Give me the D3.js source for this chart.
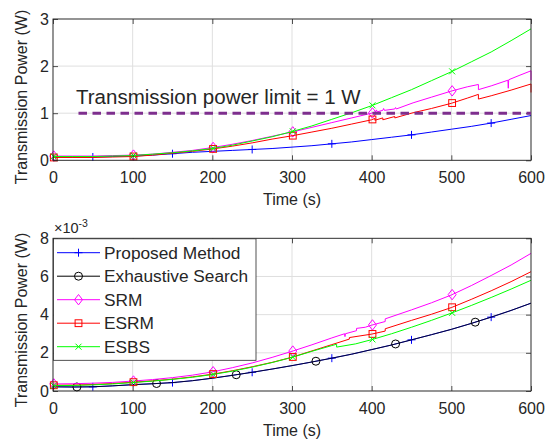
<!DOCTYPE html>
<html><head><meta charset="utf-8">
<script src="https://cdn.jsdelivr.net/npm/d3@7"></script>
<style>
body{margin:0;background:#fff}
svg{display:block}
text{font-family:"Liberation Sans",Arial,Helvetica,sans-serif;fill:#262626}
</style>
</head><body>
<svg id="c" width="554" height="443"></svg>
<script>
// ---------- data ----------
const xTicks = [0,100,200,300,400,500,600];
const topYTicks = [0,1,2,3];
const botYTicks = [0,2,4,6,8];
const seriesNames = ["Proposed Method","Exhaustive Search","SRM","ESRM","ESBS"];
const seriesColors = ["#0000ff","#000000","#ff00ff","#ff0000","#00ff00"];
const seriesMarkers = ["plus","circle","diamond","square","cross"];
const xLabel = "Time (s)";
const yLabel = "Transmission Power (W)";
const limitLabel = "Transmission power limit = 1 W";
const limitValue = 1;
const limitTimes = [32,600];
const markerTimesMain = [1,101,201,301,401,501];
const markerTimesProposed = [50,150,250,350,450,550];
const markerTimesExhaustive = [30,130,230,330,430,530];

// top panel (W)
const topProposed = [[0,.07],[25,.07],[50,.07],[75,.08],[100,.09],[125,.11],[150,.14],[175,.17],[200,.19],[225,.21],[250,.23],[275,.25],[300,.28],[325,.31],[350,.35],[375,.39],[400,.44],[425,.49],[450,.54],[475,.6],[500,.66],[525,.72],[550,.79],[575,.87],[600,.95]];
const topSRM = [[0,.09],[25,.09],[50,.09],[75,.1],[100,.11],[125,.13],[150,.17],[175,.21],[200,.27],[225,.34],[250,.42],[275,.51],[300,.6],[325,.7],[350,.8],[375,.9],[400,1.0],[405,1.03],[406,1.07],[407,1.03],[414,1.06],[415,1.1],[416,1.06],[429,1.09],[430,1.12],[431,1.09],[452,1.22],[475,1.34],[500,1.47],[520,1.56],[534,1.61],[534,1.5],[550,1.58],[571,1.7],[571.5,1.53],[572,1.71],[585,1.8],[600,1.9],[600,1.7]];
const topESRM = [[0,.06],[25,.06],[50,.06],[75,.07],[100,.08],[125,.11],[150,.15],[175,.19],[200,.24],[225,.3],[250,.37],[275,.45],[300,.52],[325,.6],[350,.68],[375,.77],[400,.86],[404,.89],[404,.85],[414,.9],[414,.86],[429,.93],[429,.9],[452,1.01],[475,1.1],[500,1.21],[520,1.32],[534,1.4],[534,1.3],[550,1.37],[575,1.49],[600,1.62],[600,1.44]];
const topESBS = [[0,.08],[25,.08],[50,.08],[75,.09],[100,.1],[125,.13],[150,.16],[175,.2],[200,.25],[225,.32],[250,.41],[275,.5],[300,.61],[325,.73],[350,.87],[375,1.01],[400,1.16],[425,1.33],[450,1.5],[475,1.69],[500,1.88],[525,2.09],[550,2.3],[575,2.54],[600,2.79]];

// bottom panel (x 10^-3 W)
const botProposed = [[0,.22],[25,.21],[50,.22],[75,.27],[100,.33],[125,.38],[150,.44],[175,.54],[200,.67],[225,.82],[250,.98],[275,1.15],[300,1.33],[325,1.52],[350,1.72],[375,1.93],[400,2.17],[425,2.41],[450,2.68],[475,2.95],[500,3.23],[525,3.54],[550,3.87],[575,4.22],[600,4.6]];
const botExhaustive = [[0,.22],[25,.21],[50,.22],[75,.27],[100,.33],[125,.38],[150,.44],[175,.54],[200,.67],[225,.82],[250,.98],[275,1.15],[300,1.33],[325,1.52],[350,1.72],[375,1.93],[400,2.17],[425,2.41],[450,2.68],[475,2.95],[500,3.23],[525,3.54],[550,3.87],[575,4.22],[600,4.6]];
const botSRM = [[0,.37],[25,.38],[50,.41],[75,.45],[100,.52],[125,.6],[150,.7],[175,.83],[200,1.0],[225,1.22],[250,1.47],[275,1.76],[300,2.08],[325,2.42],[350,2.78],[366,3.0],[366.5,2.85],[367,3.0],[381,3.16],[381,3.28],[392,3.34],[400,3.45],[417,3.64],[417,3.78],[450,4.25],[475,4.62],[500,5.03],[525,5.52],[550,6.05],[575,6.6],[600,7.21]];
const botESRM = [[0,.3],[25,.31],[50,.34],[75,.39],[100,.46],[125,.53],[150,.62],[175,.74],[200,.88],[225,1.06],[250,1.27],[275,1.5],[300,1.77],[325,2.1],[350,2.43],[372,2.72],[372,2.8],[400,2.98],[417,3.14],[417,3.26],[450,3.7],[475,4.02],[500,4.37],[525,4.8],[550,5.25],[575,5.73],[600,6.25]];
const botESBS = [[0,.28],[25,.29],[50,.32],[75,.37],[100,.44],[125,.52],[150,.61],[175,.72],[200,.86],[225,1.04],[250,1.25],[275,1.49],[300,1.76],[325,2.08],[350,2.38],[356,2.45],[356,2.3],[380,2.47],[400,2.69],[425,3.0],[450,3.34],[475,3.7],[500,4.08],[525,4.48],[550,4.9],[575,5.34],[600,5.8]];

// ---------- drawing ----------
const svg = d3.select("#c");
const AX = "#262626", GRID = "#dfdfdf";
const x = d3.scaleLinear().domain([0,600]).range([53,531]);

function interp(data, t){
  for(let i=0;i<data.length-1;i++){
    const a=data[i], b=data[i+1];
    if(t>=a[0] && t<=b[0] && b[0]>a[0]){
      return a[1]+(b[1]-a[1])*(t-a[0])/(b[0]-a[0]);
    }
  }
  return data[data.length-1][1];
}

function drawMarker(g, type, cx, cy, color){
  const s = g.append("g").attr("transform",`translate(${cx},${cy})`)
    .attr("fill","none").attr("stroke",color).attr("stroke-width",1);
  if(type==="plus") s.append("path").attr("d","M-4,0H4M0,-4V4");
  else if(type==="cross") s.append("path").attr("d","M-3,-3L3,3M-3,3L3,-3");
  else if(type==="circle") s.append("circle").attr("r",4);
  else if(type==="diamond") s.append("path").attr("d","M0,-5.2L4,0L0,5.2L-4,0Z");
  else if(type==="square") s.append("rect").attr("x",-3.4).attr("y",-3.4).attr("width",6.8).attr("height",6.8);
}

function panel(yDomain, yRange, yTicks, seriesList){
  const y = d3.scaleLinear().domain(yDomain).range(yRange);
  const [yb, yt] = yRange;
  const g = svg.append("g");
  // grid
  g.append("g").selectAll("line").data(xTicks).join("line")
    .attr("x1",d=>x(d)).attr("x2",d=>x(d)).attr("y1",yt).attr("y2",yb)
    .attr("stroke",GRID).attr("stroke-width",1);
  g.append("g").selectAll("line").data(yTicks).join("line")
    .attr("x1",x(0)).attr("x2",x(600)).attr("y1",d=>y(d)).attr("y2",d=>y(d))
    .attr("stroke",GRID).attr("stroke-width",1);
  // series
  const line = d3.line().x(d=>x(d[0])).y(d=>y(d[1]));
  const lg = g.append("g");
  seriesList.forEach(s=>{
    lg.append("path").datum(s.data).attr("d",line).attr("fill","none")
      .attr("stroke",s.color).attr("stroke-width",1).attr("stroke-opacity",s.opacity||1)
      .attr("stroke-linejoin","round");
    s.markers.forEach(t=>drawMarker(lg, s.marker, x(t), y(interp(s.data,t)), s.color));
  });
  // axes
  const xb = d3.axisBottom(x).tickValues(xTicks).tickSizeInner(-5).tickSizeOuter(0).tickPadding(11.5);
  const xa = g.append("g").attr("transform",`translate(0,${yb})`).call(xb);
  const xtop = g.append("g").attr("transform",`translate(0,${yt})`)
    .call(d3.axisTop(x).tickValues(xTicks).tickSizeInner(-5).tickSizeOuter(0).tickFormat(""));
  const ya = g.append("g").attr("transform",`translate(${x(0)},0)`)
    .call(d3.axisLeft(y).tickValues(yTicks).tickSizeInner(-5).tickSizeOuter(0).tickPadding(4).tickFormat(d3.format("d")));
  const yr = g.append("g").attr("transform",`translate(${x(600)},0)`)
    .call(d3.axisRight(y).tickValues(yTicks).tickSizeInner(-5).tickSizeOuter(0).tickFormat(""));
  [xa,xtop,ya,yr].forEach(a=>{
    a.select(".domain").remove();
    a.selectAll(".tick line").attr("stroke",AX).attr("stroke-width",0.8);
    a.selectAll("text").attr("font-size","16px").attr("fill",AX)
      .style("font-family",'"Liberation Sans",Arial,sans-serif');
  });
  g.append("rect").attr("x",x(0)).attr("y",yt).attr("width",x(600)-x(0)).attr("height",yb-yt)
    .attr("fill","none").attr("stroke",AX).attr("stroke-width",0.9);
  // labels
  g.append("text").attr("x",(x(0)+x(600))/2).attr("y",yb+45).attr("text-anchor","middle")
    .attr("font-size","16px").text(xLabel);
  return {g,y};
}

// top panel
const topSeries = [
  {data:topProposed, color:seriesColors[0], marker:seriesMarkers[0], markers:markerTimesProposed},
  {data:topSRM, color:seriesColors[2], marker:seriesMarkers[2], markers:markerTimesMain},
  {data:topESRM, color:seriesColors[3], marker:seriesMarkers[3], markers:markerTimesMain},
  {data:topESBS, color:seriesColors[4], marker:seriesMarkers[4], markers:markerTimesMain}
];
const T = panel([0,3],[160.3,19],topYTicks,topSeries);
T.g.append("line").attr("x1",x(limitTimes[0])).attr("x2",x(limitTimes[1]))
  .attr("y1",T.y(limitValue)).attr("y2",T.y(limitValue))
  .attr("stroke","#7e2f8e").attr("stroke-width",3).attr("stroke-dasharray","8.5,5.5");
T.g.append("text").attr("x",76).attr("y",104.3).attr("font-size","20.5px").text(limitLabel);
T.g.append("text").attr("transform","translate(27,97) rotate(-90)").attr("text-anchor","middle")
  .attr("font-size","16px").text(yLabel);

// bottom panel
const botSeries = [
  {data:botProposed, color:seriesColors[0], marker:seriesMarkers[0], markers:markerTimesProposed},
  {data:botExhaustive, color:seriesColors[1], marker:seriesMarkers[1], markers:markerTimesExhaustive, opacity:0.8},
  {data:botSRM, color:seriesColors[2], marker:seriesMarkers[2], markers:markerTimesMain},
  {data:botESRM, color:seriesColors[3], marker:seriesMarkers[3], markers:markerTimesMain},
  {data:botESBS, color:seriesColors[4], marker:seriesMarkers[4], markers:markerTimesMain}
];
const B = panel([0,8],[391,238.3],botYTicks,botSeries);
B.g.append("text").attr("transform","translate(27,320) rotate(-90)").attr("text-anchor","middle")
  .attr("font-size","16px").text(yLabel);
const exp = B.g.append("text").attr("x",54).attr("y",233).attr("font-size","14.5px");
exp.append("tspan").text("×10");
exp.append("tspan").attr("dy",-6.5).attr("font-size","10.5px").text("-3");

// legend
const lgd = svg.append("g");
lgd.append("rect").attr("x",53.5).attr("y",238.8).attr("width",202.5).attr("height",121.5)
  .attr("fill","#fff").attr("stroke",AX).attr("stroke-width",0.8);
seriesNames.forEach((name,i)=>{
  const cy = 252.7 + i*23.5;
  lgd.append("line").attr("x1",57).attr("x2",100).attr("y1",cy).attr("y2",cy)
    .attr("stroke",seriesColors[i]).attr("stroke-width",1);
  drawMarker(lgd, seriesMarkers[i], 78.5, cy, seriesColors[i]);
  lgd.append("text").attr("x",104).attr("y",cy).attr("dy","0.36em").attr("font-size","17.3px").text(name);
});
</script>
</body></html>
